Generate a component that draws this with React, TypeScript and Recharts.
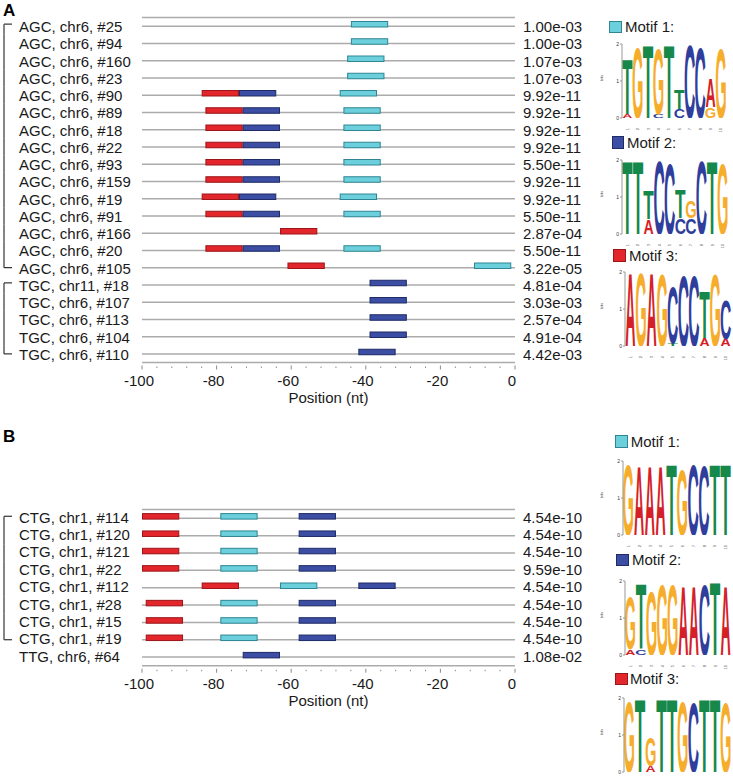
import React from "react";
import { BarChart, Bar, ComposedChart, XAxis, YAxis, CartesianGrid, Label } from "recharts";

const FONT = '"Liberation Sans", Arial, Helvetica, sans-serif';

// ---------- panel A: sequences ----------
const aNames = [
  "AGC, chr6, #25", "AGC, chr6, #94", "AGC, chr6, #160", "AGC, chr6, #23",
  "AGC, chr6, #90", "AGC, chr6, #89", "AGC, chr6, #18", "AGC, chr6, #22",
  "AGC, chr6, #93", "AGC, chr6, #159", "AGC, chr6, #19", "AGC, chr6, #91",
  "AGC, chr6, #166", "AGC, chr6, #20", "AGC, chr6, #105", "TGC, chr11, #18",
  "TGC, chr6, #107", "TGC, chr6, #113", "TGC, chr6, #104", "TGC, chr6, #110",
];
const aPvalues = [
  "1.00e-03", "1.00e-03", "1.07e-03", "1.07e-03", "9.92e-11", "9.92e-11", "9.92e-11",
  "9.92e-11", "5.50e-11", "9.92e-11", "9.92e-11", "5.50e-11", "2.87e-04", "5.50e-11",
  "3.22e-05", "4.81e-04", "3.03e-03", "2.57e-04", "4.91e-04", "4.42e-03",
];
const aMotif1 = [
  [-44, -34], [-44, -34], [-45, -35], [-45, -35], [-47, -37], [-46, -36], [-46, -36],
  [-46, -36], [-46, -36], [-46, -36], [-47, -37], [-46, -36], null, [-46, -36],
  [-11, -1], null, null, null, null, null,
];
const aMotif2 = [
  null, null, null, null, [-74, -64], [-73, -63], [-73, -63], [-73, -63], [-73, -63],
  [-73, -63], [-74, -64], [-73, -63], null, [-73, -63], null, [-39, -29], [-39, -29],
  [-39, -29], [-39, -29], [-42, -32],
];
const aMotif3 = [
  null, null, null, null, [-84, -74], [-83, -73], [-83, -73], [-83, -73], [-83, -73],
  [-83, -73], [-84, -74], [-83, -73], [-63, -53], [-83, -73], [-61, -51],
  null, null, null, null, null,
];
const aGroups = [[0, 14], [15, 19]];

// ---------- panel B: sequences ----------
const bNames = [
  "CTG, chr1, #114", "CTG, chr1, #120", "CTG, chr1, #121", "CTG, chr1, #22",
  "CTG, chr1, #112", "CTG, chr1, #28", "CTG, chr1, #15", "CTG, chr1, #19",
  "TTG, chr6, #64",
];
const bPvalues = [
  "4.54e-10", "4.54e-10", "4.54e-10", "9.59e-10", "4.54e-10", "4.54e-10",
  "4.54e-10", "4.54e-10", "1.08e-02",
];
const bMotif1 = [
  [-79, -69], [-79, -69], [-79, -69], [-79, -69], [-63, -53], [-79, -69],
  [-79, -69], [-79, -69], null,
];
const bMotif2 = [
  [-58, -48], [-58, -48], [-58, -48], [-58, -48], [-42, -32], [-58, -48],
  [-58, -48], [-58, -48], [-73, -63],
];
const bMotif3 = [
  [-100, -90], [-100, -90], [-100, -90], [-100, -90], [-84, -74], [-99, -89],
  [-99, -89], [-99, -89], null,
];
const bGroups = [[0, 7]];

const positionTicks = [
  -100, -96, -92, -88, -84, -80, -76, -72, -68, -64, -60, -56, -52, -48, -44,
  -40, -36, -32, -28, -24, -20, -16, -12, -8, -4, 0,
];

// ---------- motif logos (letters bottom -> top, heights in bits) ----------
const a1Letters = ["AT", "G", "T", "CG", "T", "CT", "C", "C", "GA", "G"];
const a1Bits = [[0.1, 1.5], [1.95], [2], [0.1, 1.8], [2], [0.25, 0.55], [2], [1.95], [0.3, 0.8], [1.9]];
const a2Letters = ["T", "T", "AT", "C", "C", "CT", "CG", "C", "T", "G"];
const a2Bits = [[2], [2], [0.4, 0.78], [2], [1.95], [0.42, 0.78], [0.42, 0.45], [2], [2], [1.95]];
const a3Letters = ["A", "G", "A", "G", "TC", "C", "C", "AT", "G", "AC"];
const a3Bits = [[2], [2], [2], [1.98], [0.08, 1.55], [1.95], [1.95], [0.22, 1.28], [1.98], [0.2, 1.08]];
const b1Letters = ["G", "A", "A", "A", "T", "G", "C", "C", "T", "T"];
const b1Bits = [[1.95], [1.9], [1.9], [1.9], [1.95], [1.8], [1.95], [1.9], [1.95], [1.95]];
const b2Letters = ["AG", "CT", "G", "G", "G", "A", "A", "C", "T", "A"];
const b2Bits = [[0.15, 1.45], [0.15, 1.8], [1.75], [1.95], [1.95], [1.9], [1.9], [1.95], [2], [1.9]];
const b3Letters = ["G", "T", "AG", "T", "T", "G", "C", "T", "T", "G"];
const b3Bits = [[1.95], [2], [0.16, 0.8], [2], [2], [1.95], [1.9], [2], [2], [1.9]];

const motifFill = ["#6ccfdc", "#3b4ea3", "#e3262c"];
const motifStroke = ["#2f8593", "#1f2b66", "#9b1519"];
const baseColor: Record<string, string> = { A: "#d42027", C: "#2f3e9c", G: "#f6ad2b", T: "#16884a" };
// bold glyph advance and ink widths (em), used to stretch letters to their column
const advance: Record<string, number> = { A: 0.722, C: 0.722, G: 0.778, T: 0.611 };
const inkWidth: Record<string, number> = { A: 0.71, C: 0.64, G: 0.68, T: 0.58 };

const motifShape = (k: number) => (p: any) => {
  if (!(p.width > 0)) return <g />;
  return (
    <rect x={p.x + 0.5} y={p.y - 2} width={p.width - 1} height={5.5}
      fill={motifFill[k]} stroke={motifStroke[k]} strokeWidth={1} />
  );
};

function makeNameTick(groups: number[][], band: number, dy: number, pvals: string[]) {
  return (props: any) => {
    const { y, payload, index } = props;
    const g = groups.find(([s, e]) => index >= s && index <= e);
    let bracket = null;
    if (g) {
      const [s, e] = g;
      const top = index === s ? y - 2 : y - band / 2;
      const bot = index === e ? y : y + band / 2;
      bracket = (
        <g stroke="#333" strokeWidth={1.2}>
          <line x1={4} x2={4} y1={top} y2={bot} />
          {index === s && <line x1={4} x2={12} y1={top} y2={top} />}
          {index === e && <line x1={4} x2={12} y1={bot} y2={bot} />}
        </g>
      );
    }
    return (
      <g>
        {bracket}
        <text x={19} y={y + dy} fontSize={15} fill="#1a1a1a">{payload.value}</text>
        <text x={523} y={y + dy} fontSize={15} fill="#1a1a1a">{pvals[index]}</text>
      </g>
    );
  };
}

function makeXTick(plotBottom: number) {
  return (props: any) => {
    const { x, payload } = props;
    const major = payload.value % 20 === 0;
    return (
      <g>
        <line x1={x} x2={x} y1={plotBottom + (major ? 3 : 4)} y2={plotBottom + (major ? 7 : 5.5)}
          stroke="#8a8a8a" strokeWidth={1} />
        {major && (
          <text x={x - 3} y={plotBottom + 23.5} textAnchor="middle" fontSize={15} fill="#1a1a1a">
            {payload.value}
          </text>
        )}
      </g>
    );
  };
}

function SeqPanel(props: {
  names: string[]; pvals: string[]; m1: any[]; m2: any[]; m3: any[];
  groups: number[][]; top: number; marginTop: number; band: number; dy: number;
}) {
  const { names, pvals, m1, m2, m3, groups, top, marginTop, band, dy } = props;
  const rows = names.map((name, i) => ({ name, m1: m1[i], m2: m2[i], m3: m3[i] }));
  const plotBottom = marginTop + band * names.length;
  return (
    <div style={{ position: "absolute", left: 0, top }}>
      <ComposedChart layout="vertical" width={733} height={plotBottom + 45} data={rows}
        margin={{ top: marginTop, right: 218, bottom: 0, left: 0 }} barGap={-6} barCategoryGap={0}>
        <CartesianGrid horizontal vertical={false} stroke="#ababab" strokeWidth={1.5} />
        <XAxis type="number" domain={[-100, 0]} ticks={positionTicks} interval={0}
          tickLine={false} axisLine={false} height={45} tick={makeXTick(plotBottom)}>
          <Label value="Position (nt)" position="insideBottom" offset={5} fontSize={15} fill="#1a1a1a" />
        </XAxis>
        <YAxis type="category" dataKey="name" width={142} tickLine={false} axisLine={false}
          interval={0} tick={makeNameTick(groups, band, dy, pvals)} />
        <Bar dataKey="m3" barSize={6} isAnimationActive={false} shape={motifShape(2)} />
        <Bar dataKey="m2" barSize={6} isAnimationActive={false} shape={motifShape(1)} />
        <Bar dataKey="m1" barSize={6} isAnimationActive={false} shape={motifShape(0)} />
      </ComposedChart>
    </div>
  );
}

const letterShape = (key: string) => (p: any) => {
  const ch = p.payload?.[key];
  if (!ch || !(p.height > 0)) return <g />;
  const fs = p.height / 0.716;
  const len = (p.width * advance[ch]) / inkWidth[ch];
  return (
    <text x={p.x + p.width / 2 - len / 2} y={p.y + p.height} fontSize={fs} fontWeight="bold"
      textLength={len} lengthAdjust="spacingAndGlyphs" fill={baseColor[ch]}>{ch}</text>
  );
};

const tinyTick = (props: any) => (
  <text x={props.x + 1.5} y={props.y + 2} transform={`rotate(-90 ${props.x + 1.5} ${props.y + 2})`}
    textAnchor="end" fontSize={4} fill="#555">{props.payload.value}</text>
);

function Logo(props: { letters: string[]; bits: number[][]; top: number; axisX: number; right: number }) {
  const { letters, bits, top, axisX, right } = props;
  const data = letters.map((s, i) => ({
    pos: i + 1, v0: bits[i][0], c0: s[0], v1: bits[i][1] ?? 0, c1: s[1] ?? "",
  }));
  // generous room above/below so the tall glyph boxes stay inside the svg
  const mt = 26;
  const mb = 24;
  return (
    <div style={{ position: "absolute", left: 596, top: top - mt, pointerEvents: "none" }}>
      <BarChart width={137} height={mt + 74 + 8 + mb} data={data} barCategoryGap={0.3}
        margin={{ top: mt, right: 733 - right, bottom: mb, left: 0 }}>
        <XAxis dataKey="pos" height={8} interval={0} tickLine={false} axisLine={false} tick={tinyTick} />
        <YAxis domain={[0, 2]} ticks={[0, 1, 2]} width={axisX - 596} allowDataOverflow
          tick={{ fontSize: 5, fill: "#333" }} tickSize={2} tickMargin={1}
          axisLine={{ stroke: "#999" }} tickLine={{ stroke: "#999" }}>
          <Label value="bits" angle={-90} position="insideLeft" offset={6} fontSize={4} fill="#333" />
        </YAxis>
        <Bar dataKey="v0" stackId="s" isAnimationActive={false} shape={letterShape("c0")} />
        <Bar dataKey="v1" stackId="s" isAnimationActive={false} shape={letterShape("c1")} />
      </BarChart>
    </div>
  );
}

function MotifKey(props: { k: number; n: number; sx: number; tx: number; cy: number }) {
  const { k, n, sx, tx, cy } = props;
  return (
    <>
      <div style={{
        position: "absolute", left: sx, top: cy - 6.3, width: 12.5, height: 12.5,
        background: motifFill[k], border: `1px solid ${motifStroke[k]}`, boxSizing: "border-box",
      }} />
      <div style={{ position: "absolute", left: tx, top: cy - 8.8, fontSize: 15, lineHeight: "18px", color: "#1a1a1a" }}>
        Motif {n}:
      </div>
    </>
  );
}

export default function App() {
  return (
    <div style={{ position: "absolute", left: 0, top: 0, width: 733, height: 781, background: "#fff", fontFamily: FONT }}>
      <div style={{ position: "absolute", left: 3, top: 2.3, fontSize: 17, fontWeight: "bold", lineHeight: "17px" }}>A</div>
      <div style={{ position: "absolute", left: 3, top: 428, fontSize: 17, fontWeight: "bold", lineHeight: "17px" }}>B</div>

      <SeqPanel names={aNames} pvals={aPvalues} m1={aMotif1} m2={aMotif2} m3={aMotif3}
        groups={aGroups} top={0} marginTop={17.5} band={17.25} dy={6} />
      <SeqPanel names={bNames} pvals={bPvalues} m1={bMotif1} m2={bMotif2} m3={bMotif3}
        groups={bGroups} top={490} marginTop={19.6} band={17.35} dy={4.5} />

      <Logo letters={a1Letters} bits={a1Bits} top={43.5} axisX={622} right={726} />
      <Logo letters={a2Letters} bits={a2Bits} top={160} axisX={622} right={728} />
      <Logo letters={a3Letters} bits={a3Bits} top={272} axisX={625} right={731} />
      <Logo letters={b1Letters} bits={b1Bits} top={461} axisX={623} right={731} />
      <Logo letters={b2Letters} bits={b2Bits} top={580.5} axisX={625} right={731} />
      <Logo letters={b3Letters} bits={b3Bits} top={698} axisX={624} right={731} />

      <MotifKey k={0} n={1} sx={609} tx={625} cy={27} />
      <MotifKey k={1} n={2} sx={611.7} tx={627} cy={142.5} />
      <MotifKey k={2} n={3} sx={613.3} tx={629} cy={255.7} />
      <MotifKey k={0} n={1} sx={615} tx={630.7} cy={441.7} />
      <MotifKey k={1} n={2} sx={616} tx={632} cy={560} />
      <MotifKey k={2} n={3} sx={615} tx={630} cy={678.8} />
    </div>
  );
}
